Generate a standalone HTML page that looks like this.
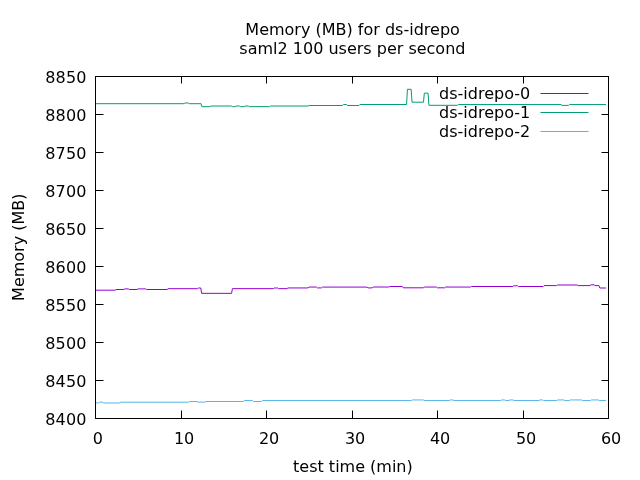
<!DOCTYPE html>
<html lang="en"><head><meta charset="utf-8"><title>Memory (MB) for ds-idrepo</title>
<style>html,body{margin:0;padding:0;background:#fff;overflow:hidden}svg{display:block}</style></head>
<body>
<svg width="640" height="480" viewBox="0 0 640 480" style="display:block">
<rect width="640" height="480" fill="#fff"/>
<path d="M95.5 418.5h8M608.5 418.5h-7M95.5 380.5h8M608.5 380.5h-7M95.5 342.5h8M608.5 342.5h-7M95.5 304.5h8M608.5 304.5h-7M95.5 266.5h8M608.5 266.5h-7M95.5 228.5h8M608.5 228.5h-7M95.5 190.5h8M608.5 190.5h-7M95.5 152.5h8M608.5 152.5h-7M95.5 114.5h8M608.5 114.5h-7M95.5 76.5h8M608.5 76.5h-7M95.5 418.5v-8M95.5 76.5v7M181.5 418.5v-8M181.5 76.5v7M266.5 418.5v-8M266.5 76.5v7M352.5 418.5v-8M352.5 76.5v7M437.5 418.5v-8M437.5 76.5v7M523.5 418.5v-8M523.5 76.5v7M608.5 418.5v-8M608.5 76.5v7" stroke="#000" stroke-width="1" fill="none"/>
<path d="M95.50 290.20 L115.17 290.20 L116.03 289.50 L123.97 289.50 L124.83 288.90 L128.32 288.90 L129.18 289.50 L137.07 289.50 L137.93 288.90 L145.82 288.90 L146.68 289.50 L167.17 289.50 L168.03 288.70 L197.57 288.70 L198.43 288.00 L200.77 288.00 L201.63 293.35 L231.57 293.35 L232.43 288.65 L273.32 288.65 L274.18 288.00 L277.67 288.00 L278.53 288.65 L287.07 288.65 L287.93 287.95 L308.07 287.95 L308.93 287.05 L316.47 287.05 L317.33 287.90 L321.47 287.90 L322.33 287.10 L367.07 287.10 L367.93 287.90 L372.27 287.90 L373.13 287.00 L388.97 287.00 L389.83 286.50 L402.32 286.50 L403.18 287.80 L423.32 287.80 L424.18 287.05 L436.47 287.05 L437.33 287.80 L444.67 287.80 L445.53 287.05 L470.57 287.05 L471.43 286.50 L512.87 286.50 L513.73 285.80 L517.57 285.80 L518.43 286.50 L543.17 286.50 L544.03 285.60 L556.47 285.60 L557.33 285.00 L577.27 285.00 L578.13 285.60 L590.07 285.60 L590.93 284.80 L594.07 284.80 L594.93 285.60 L598.97 285.60 L599.83 288.00 L606.00 288.00" stroke="#9400d3" stroke-width="1" fill="none" stroke-linejoin="round"/>
<path d="M95.50 103.70 L184.07 103.70 L184.93 103.00 L188.27 103.00 L189.13 103.70 L201.07 103.70 L201.93 106.70 L209.97 106.70 L210.83 106.00 L231.47 106.00 L232.33 106.65 L235.17 106.65 L236.03 106.00 L239.57 106.00 L240.43 106.65 L244.17 106.65 L245.03 106.00 L248.32 106.00 L249.18 106.65 L269.57 106.65 L270.43 106.00 L308.17 106.00 L309.03 105.50 L342.57 105.50 L343.43 104.50 L346.57 104.50 L347.43 105.50 L358.97 105.50 L359.83 104.50 L406.57 104.50 L407.43 89.30 L411.17 89.30 L412.03 102.20 L423.47 102.20 L424.33 93.15 L428.07 93.15 L428.93 105.30 L457.37 105.30 L458.23 104.55 L561.07 104.55 L561.93 105.40 L568.57 105.40 L569.43 104.55 L606.00 104.55" stroke="#009e73" stroke-width="1" fill="none" stroke-linejoin="round"/>
<path d="M95.50 402.90 L98.57 402.90 L99.43 402.20 L102.87 402.20 L103.73 403.00 L119.97 403.00 L120.83 402.20 L188.57 402.20 L189.43 401.50 L197.07 401.50 L197.93 402.15 L205.17 402.15 L206.03 401.50 L243.32 401.50 L244.18 400.55 L252.57 400.55 L253.43 401.50 L261.57 401.50 L262.43 400.55 L411.47 400.55 L412.33 399.95 L423.32 399.95 L424.18 400.55 L449.32 400.55 L450.18 399.95 L453.07 399.95 L453.93 400.55 L500.82 400.55 L501.68 399.95 L504.82 399.95 L505.68 400.55 L508.97 400.55 L509.83 399.95 L513.07 399.95 L513.93 400.55 L538.97 400.55 L539.83 399.95 L542.67 399.95 L543.53 400.55 L556.82 400.55 L557.68 399.95 L563.97 399.95 L564.83 400.55 L569.32 400.55 L570.18 399.95 L581.47 399.95 L582.33 400.55 L590.57 400.55 L591.43 399.95 L598.32 399.95 L599.18 400.55 L606.00 400.55" stroke="#56b4e9" stroke-width="1" fill="none" stroke-linejoin="round"/>
<path d="M540.5 93.5H588.5" stroke="#9400d3" stroke-width="1" fill="none"/>
<path d="M540.5 112.5H588.5" stroke="#009e73" stroke-width="1" fill="none"/>
<path d="M540.5 131.5H588.5" stroke="#56b4e9" stroke-width="1" fill="none"/>
<path d="M95.5 76.5V418.5H608.5V76.5Z" stroke="#000" stroke-width="1" fill="none"/>
<g font-family="'DejaVu Sans', 'Liberation Sans', sans-serif" font-size="16px" fill="#000">
<text x="86.7" y="424.7" text-anchor="end" letter-spacing="0.2">8400</text>
<text x="86.7" y="386.7" text-anchor="end" letter-spacing="0.2">8450</text>
<text x="86.7" y="348.7" text-anchor="end" letter-spacing="0.2">8500</text>
<text x="86.7" y="310.7" text-anchor="end" letter-spacing="0.2">8550</text>
<text x="86.7" y="272.7" text-anchor="end" letter-spacing="0.2">8600</text>
<text x="86.7" y="234.7" text-anchor="end" letter-spacing="0.2">8650</text>
<text x="86.7" y="196.7" text-anchor="end" letter-spacing="0.2">8700</text>
<text x="86.7" y="158.7" text-anchor="end" letter-spacing="0.2">8750</text>
<text x="86.7" y="120.7" text-anchor="end" letter-spacing="0.2">8800</text>
<text x="86.7" y="82.7" text-anchor="end" letter-spacing="0.2">8850</text>
<text x="97.9" y="444.3" text-anchor="middle">0</text>
<text x="184.1" y="444.3" text-anchor="middle">10</text>
<text x="269.1" y="444.3" text-anchor="middle">20</text>
<text x="355.1" y="444.3" text-anchor="middle">30</text>
<text x="440.1" y="444.3" text-anchor="middle">40</text>
<text x="526.1" y="444.3" text-anchor="middle">50</text>
<text x="611.1" y="444.3" text-anchor="middle">60</text>
<text x="352.6" y="34.8" text-anchor="middle">Memory (MB) for ds-idrepo</text>
<text x="352.4" y="53.7" text-anchor="middle">saml2 100 users per second</text>
<text x="352.9" y="472" text-anchor="middle">test time (min)</text>
<text transform="translate(24 247.2) rotate(-90)" text-anchor="middle">Memory (MB)</text>
<text x="530.2" y="99.3" text-anchor="end">ds-idrepo-0</text>
<text x="530.2" y="118.3" text-anchor="end">ds-idrepo-1</text>
<text x="530.2" y="137.3" text-anchor="end">ds-idrepo-2</text>
</g>
</svg>
</body></html>
